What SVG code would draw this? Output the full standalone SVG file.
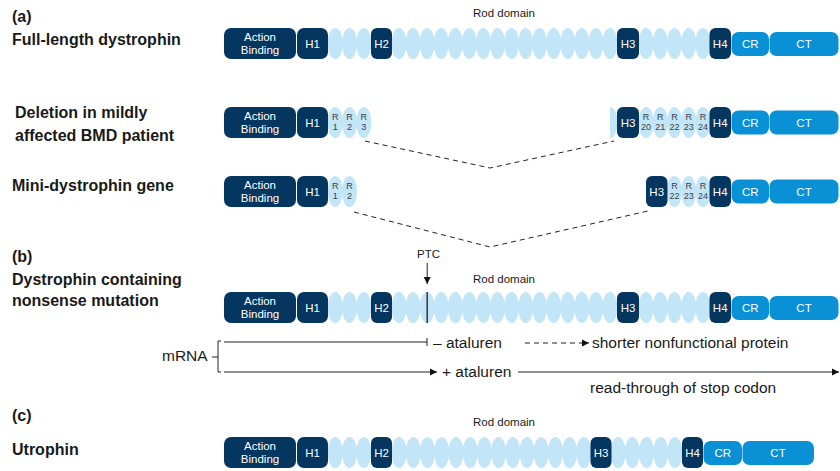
<svg xmlns="http://www.w3.org/2000/svg" xmlns:xlink="http://www.w3.org/1999/xlink" width="840" height="471" viewBox="0 0 840 471">
<style>
.lbl{font-family:"Liberation Sans",Arial,sans-serif;font-weight:bold;font-size:16px;fill:#1a1a1a}
.txt{font-family:"Liberation Sans",Arial,sans-serif;font-size:15.5px;fill:#1a1a1a}
.small{font-family:"Liberation Sans",Arial,sans-serif;font-size:11.5px;fill:#1a1a1a}
.nv{fill:#04365f}
.cr{fill:#0a90d5}
.rod{fill:#c2e5f7}
.bt{font-family:"Liberation Sans",Arial,sans-serif;font-size:11.5px;fill:#ffffff;text-anchor:middle}
.rt{font-family:"Liberation Sans",Arial,sans-serif;font-size:9px;fill:#3a3f47;text-anchor:middle}
.ln{stroke:#222;stroke-width:1;fill:none}
.dash{stroke:#222;stroke-width:1;fill:none;stroke-dasharray:5,4}
</style>
<defs>
<ellipse id="e" class="rod" cx="0" cy="0" rx="7.6" ry="15.5"/>
<marker id="arr" markerUnits="userSpaceOnUse" markerWidth="8" markerHeight="8" refX="7" refY="4" orient="auto">
<path d="M0,0.5 L7,4 L0,7.5 z" fill="#111"/>
</marker>
</defs>

<g id="labels">
<text class="lbl" x="12" y="22">(a)</text>
<text class="lbl" x="12" y="45">Full-length dystrophin</text>
<text class="lbl" x="15" y="118">Deletion in mildly</text>
<text class="lbl" x="15" y="141">affected BMD patient</text>
<text class="lbl" x="12" y="191">Mini-dystrophin gene</text>
<text class="lbl" x="12" y="262">(b)</text>
<text class="lbl" x="12" y="285">Dystrophin containing</text>
<text class="lbl" x="12" y="306">nonsense mutation</text>
<text class="lbl" x="12" y="421">(c)</text>
<text class="lbl" x="12" y="455">Utrophin</text>
<text class="small" x="473" y="17">Rod domain</text>
<text class="small" x="473" y="283">Rod domain</text>
<text class="small" x="473" y="426">Rod domain</text>
<text class="small" x="417" y="258">PTC</text>
</g>

<!-- Row (a): full-length dystrophin -->
<g id="row-full-length">
<g transform="translate(0,43.5)">
<use href="#e" x="335.2"/><use href="#e" x="349.5"/><use href="#e" x="363.8"/>
<use href="#e" x="399.0"/><use href="#e" x="413.1"/><use href="#e" x="427.2"/><use href="#e" x="441.2"/><use href="#e" x="455.3"/><use href="#e" x="469.3"/><use href="#e" x="483.4"/><use href="#e" x="497.5"/><use href="#e" x="511.5"/><use href="#e" x="525.6"/><use href="#e" x="539.6"/><use href="#e" x="553.7"/><use href="#e" x="567.8"/><use href="#e" x="581.8"/><use href="#e" x="595.9"/><use href="#e" x="609.9"/>
<use href="#e" x="646.1"/><use href="#e" x="660.3"/><use href="#e" x="674.5"/><use href="#e" x="688.7"/><use href="#e" x="702.9"/>
</g>
<rect class="nv" x="224" y="28" width="72" height="31" rx="7"/>
<text class="bt" x="260" y="40.5">Action</text><text class="bt" x="260" y="54">Binding</text>
<rect class="nv" x="297" y="28" width="31" height="31" rx="7"/><text class="bt" x="312.5" y="48">H1</text>
<rect class="nv" x="371" y="28" width="21" height="31" rx="6"/><text class="bt" x="381.5" y="48">H2</text>
<rect class="nv" x="617" y="28" width="22" height="31" rx="6"/><text class="bt" x="628" y="48">H3</text>
<rect class="nv" x="709.5" y="28" width="21.5" height="31" rx="6"/><text class="bt" x="720.2" y="48">H4</text>
<rect class="cr" x="731.5" y="32" width="37.5" height="24" rx="7"/><text class="bt" x="750.2" y="48">CR</text>
<rect class="cr" x="769.5" y="32" width="69" height="24" rx="7"/><text class="bt" x="804" y="48">CT</text>
</g>

<!-- Deletion BMD -->
<g id="row-bmd-deletion">
<g transform="translate(0,122.5)">
<use href="#e" x="335.2"/><use href="#e" x="349.5"/><use href="#e" x="363.8"/>
<use href="#e" x="646.1"/><use href="#e" x="660.3"/><use href="#e" x="674.5"/><use href="#e" x="688.7"/><use href="#e" x="702.9"/>
</g>
<path class="rod" d="M610,107 A7.6,15.5 0 0 1 610,138 Z"/>
<rect class="nv" x="224" y="107" width="72" height="31" rx="7"/>
<text class="bt" x="260" y="119.5">Action</text><text class="bt" x="260" y="133">Binding</text>
<rect class="nv" x="297" y="107" width="31" height="31" rx="7"/><text class="bt" x="312.5" y="127">H1</text>
<text class="rt" x="335.2" y="120">R</text><text class="rt" x="335.2" y="130">1</text>
<text class="rt" x="349.5" y="120">R</text><text class="rt" x="349.5" y="130">2</text>
<text class="rt" x="363.8" y="120">R</text><text class="rt" x="363.8" y="130">3</text>
<rect class="nv" x="617" y="107" width="22" height="31" rx="6"/><text class="bt" x="628" y="127">H3</text>
<text class="rt" x="646.1" y="120">R</text><text class="rt" x="646.1" y="130">20</text>
<text class="rt" x="660.3" y="120">R</text><text class="rt" x="660.3" y="130">21</text>
<text class="rt" x="674.5" y="120">R</text><text class="rt" x="674.5" y="130">22</text>
<text class="rt" x="688.7" y="120">R</text><text class="rt" x="688.7" y="130">23</text>
<text class="rt" x="702.9" y="120">R</text><text class="rt" x="702.9" y="130">24</text>
<rect class="nv" x="709.5" y="107" width="21.5" height="31" rx="6"/><text class="bt" x="720.2" y="127">H4</text>
<rect class="cr" x="731.5" y="110.5" width="37.5" height="24" rx="7"/><text class="bt" x="750.2" y="127">CR</text>
<rect class="cr" x="769.5" y="110.5" width="69" height="24" rx="7"/><text class="bt" x="804" y="127">CT</text>
</g>

<!-- Mini-dystrophin -->
<g id="row-mini-dystrophin">
<g transform="translate(0,191.5)">
<use href="#e" x="335.2"/><use href="#e" x="349.5"/>
<use href="#e" x="674.5"/><use href="#e" x="688.7"/><use href="#e" x="702.9"/>
</g>
<rect class="nv" x="224" y="176" width="72" height="31" rx="7"/>
<text class="bt" x="260" y="188.5">Action</text><text class="bt" x="260" y="202">Binding</text>
<rect class="nv" x="297" y="176" width="31" height="31" rx="7"/><text class="bt" x="312.5" y="196">H1</text>
<text class="rt" x="335.2" y="189">R</text><text class="rt" x="335.2" y="199">1</text>
<text class="rt" x="349.5" y="189">R</text><text class="rt" x="349.5" y="199">2</text>
<rect class="nv" x="646" y="176" width="21.5" height="31" rx="6"/><text class="bt" x="656.7" y="196">H3</text>
<text class="rt" x="674.5" y="189">R</text><text class="rt" x="674.5" y="199">22</text>
<text class="rt" x="688.7" y="189">R</text><text class="rt" x="688.7" y="199">23</text>
<text class="rt" x="702.9" y="189">R</text><text class="rt" x="702.9" y="199">24</text>
<rect class="nv" x="709.5" y="176" width="21.5" height="31" rx="6"/><text class="bt" x="720.2" y="196">H4</text>
<rect class="cr" x="731.5" y="179.5" width="37.5" height="24" rx="7"/><text class="bt" x="750.2" y="196">CR</text>
<rect class="cr" x="769.5" y="179.5" width="69" height="24" rx="7"/><text class="bt" x="804" y="196">CT</text>
</g>

<!-- Row (b): nonsense mutation -->
<g id="row-nonsense">
<g transform="translate(0,307.5)">
<use href="#e" x="335.2"/><use href="#e" x="349.5"/><use href="#e" x="363.8"/>
<use href="#e" x="399.0"/><use href="#e" x="413.1"/><use href="#e" x="427.2"/><use href="#e" x="441.2"/><use href="#e" x="455.3"/><use href="#e" x="469.3"/><use href="#e" x="483.4"/><use href="#e" x="497.5"/><use href="#e" x="511.5"/><use href="#e" x="525.6"/><use href="#e" x="539.6"/><use href="#e" x="553.7"/><use href="#e" x="567.8"/><use href="#e" x="581.8"/><use href="#e" x="595.9"/><use href="#e" x="609.9"/>
<use href="#e" x="646.1"/><use href="#e" x="660.3"/><use href="#e" x="674.5"/><use href="#e" x="688.7"/><use href="#e" x="702.9"/>
</g>
<line x1="427.2" y1="292" x2="427.2" y2="323" stroke="#3a4048" stroke-width="1.6"/>
<rect class="nv" x="224" y="292" width="72" height="31" rx="7"/>
<text class="bt" x="260" y="304.5">Action</text><text class="bt" x="260" y="318">Binding</text>
<rect class="nv" x="297" y="292" width="31" height="31" rx="7"/><text class="bt" x="312.5" y="312">H1</text>
<rect class="nv" x="371" y="292" width="21" height="31" rx="6"/><text class="bt" x="381.5" y="312">H2</text>
<rect class="nv" x="617" y="292" width="22" height="31" rx="6"/><text class="bt" x="628" y="312">H3</text>
<rect class="nv" x="709.5" y="292" width="21.5" height="31" rx="6"/><text class="bt" x="720.2" y="312">H4</text>
<rect class="cr" x="731.5" y="296" width="37.5" height="24" rx="7"/><text class="bt" x="750.2" y="312">CR</text>
<rect class="cr" x="769.5" y="296" width="69" height="24" rx="7"/><text class="bt" x="804" y="312">CT</text>
</g>

<!-- Row (c): utrophin -->
<g id="row-utrophin">
<g transform="translate(0,452.5)">
<use href="#e" x="335.2"/><use href="#e" x="349.5"/><use href="#e" x="363.8"/>
<use href="#e" x="399.1"/><use href="#e" x="413.3"/><use href="#e" x="427.5"/><use href="#e" x="441.7"/><use href="#e" x="456.0"/><use href="#e" x="470.2"/><use href="#e" x="484.4"/><use href="#e" x="498.6"/><use href="#e" x="512.8"/><use href="#e" x="527.0"/><use href="#e" x="541.2"/><use href="#e" x="555.4"/><use href="#e" x="569.6"/><use href="#e" x="583.8"/>
<use href="#e" x="618.1"/><use href="#e" x="632.3"/><use href="#e" x="646.5"/><use href="#e" x="660.7"/><use href="#e" x="674.9"/>
</g>
<rect class="nv" x="224" y="437" width="72" height="31" rx="7"/>
<text class="bt" x="260" y="449.5">Action</text><text class="bt" x="260" y="463">Binding</text>
<rect class="nv" x="297" y="437" width="31" height="31" rx="7"/><text class="bt" x="312.5" y="457">H1</text>
<rect class="nv" x="371" y="437" width="21" height="31" rx="6"/><text class="bt" x="381.5" y="457">H2</text>
<rect class="nv" x="590.5" y="437" width="21" height="31" rx="6"/><text class="bt" x="601" y="457">H3</text>
<rect class="nv" x="682" y="437" width="21" height="31" rx="6"/><text class="bt" x="692.5" y="457">H4</text>
<rect class="cr" x="703.5" y="441" width="38.5" height="24" rx="7"/><text class="bt" x="722.7" y="457">CR</text>
<rect class="cr" x="742.5" y="441" width="71.5" height="24" rx="7"/><text class="bt" x="778" y="457">CT</text>
</g>

<g id="connectors">
<polyline class="dash" points="365,141 490,168 614,141"/>
<polyline class="dash" points="354,212 490,247 648,211"/>
<line class="ln" x1="427.2" y1="263" x2="427.2" y2="284" marker-end="url(#arr)"/>
<path class="ln" d="M212,357 H218 M221,341 H218 V372 H221"/>
<line class="ln" x1="224" y1="342" x2="427" y2="342"/>
<line class="ln" x1="427" y1="338" x2="427" y2="346"/>
<line class="ln" x1="224" y1="372" x2="437" y2="372" marker-end="url(#arr)"/>
<line class="dash" x1="525" y1="343" x2="589" y2="343" stroke-dasharray="4,3" marker-end="url(#arr)"/>
<line class="ln" x1="518" y1="372" x2="839" y2="372" marker-end="url(#arr)"/>
</g>

<g id="mrna-labels">
<text class="txt" x="162" y="361">mRNA</text>
<text class="txt" x="433" y="348">– ataluren</text>
<text class="txt" x="442" y="377">+ ataluren</text>
<text class="txt" x="592" y="348">shorter nonfunctional protein</text>
<text class="txt" x="590" y="393">read-through of stop codon</text>
</g>
</svg>
